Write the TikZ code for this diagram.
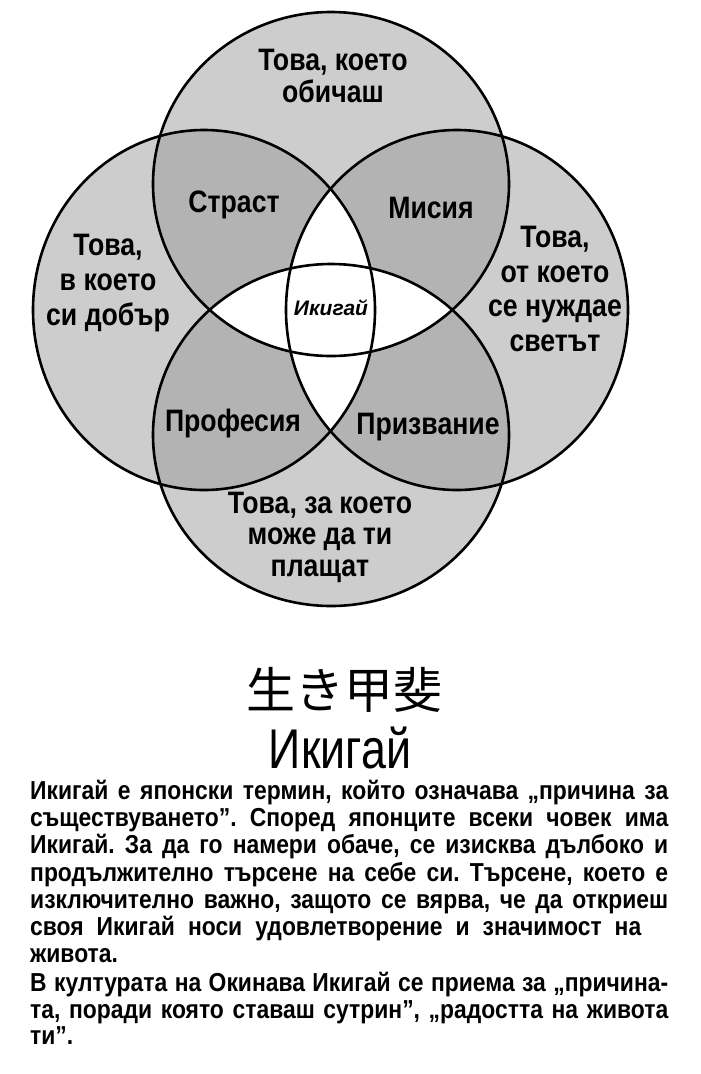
\documentclass[tikz,border=0pt]{standalone}
\usepackage{fontspec}
\usepackage{graphicx}
\setmainfont{Liberation Sans}
\newfontfamily\cjkjp{Noto Sans CJK JP}
\newfontfamily\narrowsans[FakeStretch=0.8]{Liberation Sans}
\newfontfamily\bodysans[FakeStretch=0.88]{Liberation Sans}
\newfontfamily\labelsans[FakeStretch=0.86]{Liberation Sans}
\frenchspacing
\definecolor{lightg}{RGB}{205,205,205}
\definecolor{darkg}{RGB}{179,179,179}
\def\ellT{(331,184) ellipse [x radius=178pt, y radius=172pt]}
\def\ellB{(331,435) ellipse [x radius=178pt, y radius=171pt]}
\def\ellL{(204,310) ellipse [x radius=171pt, y radius=180pt]}
\def\ellR{(457,310) ellipse [x radius=171pt, y radius=180pt]}
\tikzset{
  circ/.style={draw=black, line width=2.6pt},
  lbl/.style={font=\labelsans\bfseries\fontsize{31}{32}\selectfont, align=center, inner sep=0pt},
  bodyline/.style={anchor=base west, inner sep=0pt, font=\bodysans\bfseries\fontsize{26}{27}\selectfont},
}
\begin{document}
\begin{tikzpicture}[x=1pt,y=-1pt]
\useasboundingbox (0,0) rectangle (701,1074);
\fill[white] (0,0) rectangle (701,1074);
% single regions
\fill[lightg] \ellT;
\fill[lightg] \ellB;
\fill[lightg] \ellL;
\fill[lightg] \ellR;
% pairwise adjacent overlaps
\begin{scope}
  \clip \ellT;
  \fill[darkg] \ellL;
  \fill[darkg] \ellR;
\end{scope}
\begin{scope}
  \clip \ellB;
  \fill[darkg] \ellL;
  \fill[darkg] \ellR;
\end{scope}
% opposite overlaps (white lenses)
\begin{scope}
  \clip \ellL;
  \fill[white] \ellR;
\end{scope}
\begin{scope}
  \clip \ellT;
  \fill[white] \ellB;
\end{scope}
% outlines
\draw[circ] \ellT;
\draw[circ] \ellB;
\draw[circ] \ellL;
\draw[circ] \ellR;
% labels
\node[lbl] (love) at (333,76) {Това, което\\обичаш};
\node[lbl] (passion) at (234,205) {Страст};
\node[lbl] (mission) at (431,208) {Мисия};
\node[lbl, font=\labelsans\bfseries\fontsize{31}{35}\selectfont] (good) at (108,283) {Това,\\в което\\си добър};
\node[lbl, font=\labelsans\bfseries\fontsize{31}{34.5}\selectfont] (world) at (555,289) {Това,\\от което\\се нуждае\\светът};
\node[lbl, font=\bfseries\itshape\fontsize{21}{24}\selectfont] (ikigai) at (331,308) {Икигай};
\node[lbl] (profession) at (233,423) {Професия};
\node[lbl] (vocation) at (428,427) {Призвание};
\node[lbl, font=\labelsans\bfseries\fontsize{31}{31.5}\selectfont] (paid) at (320,537) {Това, за което\\може да ти\\плащат};
% titles
\node[inner sep=0pt, font=\cjkjp\fontsize{49}{52}\selectfont] (jp) at (344,690) {生き甲斐};
\node[inner sep=0pt, font=\narrowsans\fontsize{56}{60}\selectfont] (title) at (340,748) {Икигай};
% body text
\node[bodyline] (l1) at (30,799) {\makebox[638pt][s]{Икигай е японски термин, който означава „причина за}};
\node[bodyline] (l2) at (30,826) {\makebox[638pt][s]{съществуването”. Според японците всеки човек има}};
\node[bodyline] (l3) at (30,853) {\makebox[638pt][s]{Икигай. За да го намери обаче, се изисква дълбоко и}};
\node[bodyline] (l4) at (30,881) {\makebox[638pt][s]{продължително търсене на себе си. Търсене, което е}};
\node[bodyline] (l5) at (30,908) {\makebox[638pt][s]{изключително важно, защото се вярва, че да откриеш}};
\node[bodyline] (l6) at (30,935) {\makebox[611pt][s]{своя Икигай носи удовлетворение и значимост на}};
\node[bodyline] (l7) at (30,962) {живота.};
\node[bodyline] (l8) at (30,991) {\makebox[638pt][s]{В културата на Окинава Икигай се приема за „причина-}};
\node[bodyline] (l9) at (30,1018) {\makebox[638pt][s]{та, поради която ставаш сутрин”, „радостта на живота}};
\node[bodyline] (l10) at (30,1044) {ти”.};
\end{tikzpicture}
\end{document}
